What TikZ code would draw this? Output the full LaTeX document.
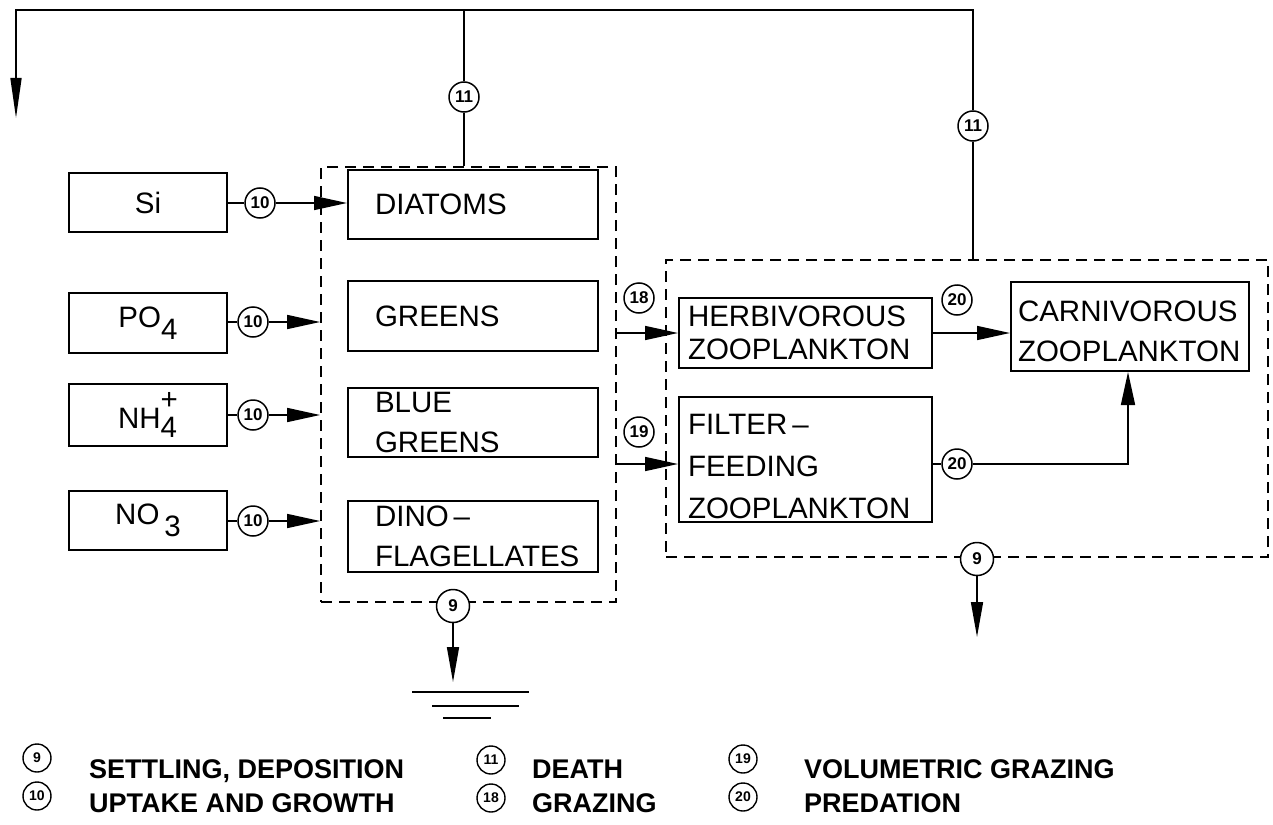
\documentclass[tikz,border=0pt]{standalone}
\usepackage{fontspec}
\setmainfont{Liberation Sans}
\usetikzlibrary{arrows.meta}
\newcommand\myboxfont{\fontsize{29.5}{40}\selectfont}
\newcommand\mynumfont{\fontsize{17}{17}\selectfont\bfseries}
\newcommand\mylegfont{\fontsize{27}{27}\selectfont\bfseries}
\newcommand\mylnumfont{\fontsize{14}{14}\selectfont\bfseries}
\begin{document}
\begin{tikzpicture}[x=1pt,y=-1pt,
  box/.style={draw, line width=2pt, inner ysep=0pt, font=\myboxfont},
  dbox/.style={draw, dash pattern=on 11pt off 7pt, line width=1.8pt, inner sep=0pt},
  num/.style={circle, draw, fill=white, line width=1.5pt, minimum size=30pt, inner sep=0pt, font=\mynumfont},
  lnum/.style={circle, draw, line width=1.4pt, minimum size=28pt, inner sep=0pt, font=\mylnumfont},
  conn/.style={line width=1.6pt},
  arr/.style={conn, -{Triangle[length=33pt,width=14pt]}},
  longarr/.style={conn, -{Triangle[length=40pt,width=11pt]}},
  legtext/.style={anchor=base west, font=\mylegfont, inner sep=0pt}]
\useasboundingbox (0,0) rectangle (1273,824);

% dashed group boxes
\node[dbox, minimum width=295pt, minimum height=435pt] (phyto) at (468.5,384.5) {};
\node[dbox, minimum width=602pt, minimum height=297pt] (zoo) at (967,408.5) {};

% nutrient boxes
\node[box, minimum width=158pt, minimum height=59pt] (si) at (148,202.5) {Si};
\node[box, minimum width=158pt, minimum height=60pt] (po) at (148,323) {PO\raisebox{-0.42em}{4}};
\node[box, minimum width=158pt, minimum height=62pt] (nh) at (148,415) {NH\rlap{\raisebox{-0.3em}{4}}\raisebox{0.62em}{+}};
\node[box, minimum width=158pt, minimum height=59pt] (no) at (148,520.5) {NO\,\raisebox{-0.4em}{3}};

% phytoplankton boxes
\node[box, minimum width=250pt, minimum height=69pt, text width=196pt, inner xsep=27pt, align=left] (diat) at (473,204.5) {DIATOMS};
\node[box, minimum width=250pt, minimum height=70pt, text width=196pt, inner xsep=27pt, align=left] (green) at (473,316) {GREENS};
\node[box, minimum width=250pt, minimum height=69pt, text width=196pt, inner xsep=27pt, align=left] (blue) at (473,422.5) {BLUE\\GREENS};
\node[box, minimum width=250pt, minimum height=71pt, text width=196pt, inner xsep=27pt, align=left] (dino) at (473,536.5) {DINO\,--\\FLAGELLATES};

% zooplankton boxes
\node[box, minimum width=253pt, minimum height=70pt, text width=235pt, inner xsep=9pt, align=left, font=\fontsize{29.5}{33}\selectfont] (herb) at (805.5,333) {HERBIVOROUS\\ZOOPLANKTON};
\node[box, minimum width=253pt, minimum height=125pt, text width=235pt, inner xsep=9pt, align=left, font=\fontsize{29.5}{42}\selectfont] (filter) at (805.5,459.5) {\rule{0pt}{34pt}FILTER\,--\\FEEDING\\ZOOPLANKTON};
\node[box, minimum width=238pt, minimum height=89pt, text width=224pt, inner xsep=7pt, align=left] (carn) at (1130,326.5) {\rule{0pt}{30pt}CARNIVOROUS\\ZOOPLANKTON};

% process circles
\node[num] (c10si) at (260,203) {10};
\node[num] (c10po) at (253,322) {10};
\node[num] (c10nh) at (253,415) {10};
\node[num] (c10no) at (253,521) {10};
\node[num] (c11a) at (464,97) {11};
\node[num] (c11b) at (973,126) {11};
\node[num] (c18) at (639,298) {18};
\node[num] (c19) at (639,432) {19};
\node[num] (c20a) at (957,300) {20};
\node[num] (c20b) at (957,464) {20};
\node[num, minimum size=33pt] (c9a) at (453,606) {9};
\node[num, minimum size=33pt] (c9b) at (977,559) {9};

% free ends
\coordinate (tl) at (16,10);
\coordinate (dn) at (16,118);
\coordinate (bend) at (1128,464);
\coordinate (gnd) at (453,682);
\coordinate (zdn) at (977,637);
\coordinate (g1a) at (412,692); \coordinate (g1b) at (529,692);
\coordinate (g2a) at (432,706); \coordinate (g2b) at (519,706);
\coordinate (g3a) at (443,718); \coordinate (g3b) at (491,718);

% uptake
\draw[conn] (si.east |- c10si) -- (c10si.west);
\draw[arr] (c10si.east) -- (diat.west |- c10si);
\draw[conn] (po.east |- c10po) -- (c10po.west);
\draw[arr] (c10po.east) -- (phyto.west |- c10po);
\draw[conn] (nh.east |- c10nh) -- (c10nh.west);
\draw[arr] (c10nh.east) -- (phyto.west |- c10nh);
\draw[conn] (no.east |- c10no) -- (c10no.west);
\draw[arr] (c10no.east) -- (phyto.west |- c10no);

% death
\draw[conn] (c11a.south) -- (c11a.south |- phyto.north);
\draw[conn] (c11a.north) -- (c11a.north |- tl);
\draw[conn] (c11b.south) -- (c11b.south |- zoo.north);
\draw[longarr] (c11b.north) -- (c11b.north |- tl) -- (tl) -- (dn);

% grazing
\draw[arr] (phyto.east |- herb.west) -- (herb.west);
\draw[arr] (phyto.east |- bend) -- (filter.west |- bend);

% predation
\draw[arr] (herb.east) -- (carn.west |- herb.east);
\draw[conn] (filter.east |- c20b) -- (c20b.west);
\draw[arr] (c20b.east) -- (bend) -- (bend |- carn.south);

% settling
\draw[conn, -{Triangle[length=35pt,width=12pt]}] (c9a.south) -- (gnd);
\draw[conn] (g1a) -- (g1b);
\draw[conn] (g2a) -- (g2b);
\draw[conn] (g3a) -- (g3b);
\draw[conn, -{Triangle[length=35pt,width=12pt]}] (c9b.south) -- (zdn);

% legend
\node[lnum] (l9) at (37,758) {9};
\node[lnum] (l10) at (37,796) {10};
\node[lnum] (l11) at (491,760) {11};
\node[lnum] (l18) at (491,798) {18};
\node[lnum] (l19) at (743,759) {19};
\node[lnum] (l20) at (743,797) {20};
\node[legtext] (t9) at (89,778) {SETTLING, DEPOSITION};
\node[legtext] (t10) at (89,812) {UPTAKE AND GROWTH};
\node[legtext] (t11) at (532,778) {DEATH};
\node[legtext] (t18) at (532,812) {GRAZING};
\node[legtext] (t19) at (804,778) {VOLUMETRIC GRAZING};
\node[legtext] (t20) at (804,812) {PREDATION};
\end{tikzpicture}
\end{document}
